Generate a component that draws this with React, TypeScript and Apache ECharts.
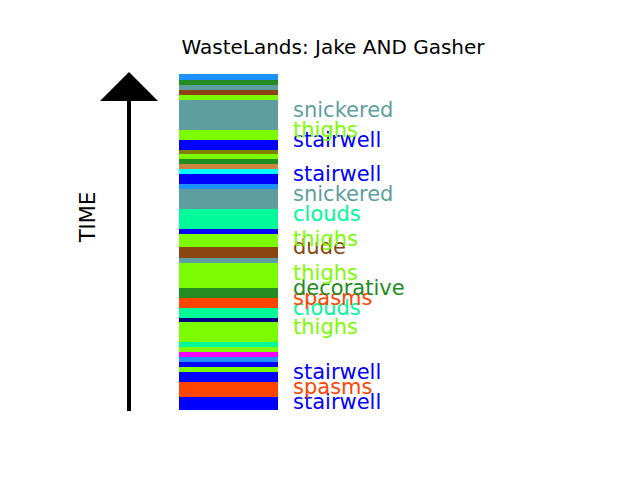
import React, { useEffect, useRef } from 'react';
import * as echarts from 'echarts';

// segments listed from the top (latest) to the bottom (earliest)
const segColors = [
  '#1e90ff', '#228b22', '#5f9ea0', '#8b4513', '#7cfc00', '#5f9ea0', '#7cfc00', '#0000ff',
  '#808000', '#7cfc00', '#228b22', '#cd853f', '#00ffff', '#0000ff', '#1e90ff', '#5f9ea0',
  '#00fa9a', '#0000ff', '#7cfc00', '#8b4513', '#5f9ea0', '#7cfc00', '#228b22', '#ff4500',
  '#00fa9a', '#000080', '#7cfc00', '#00fa9a', '#7cfc00', '#ff00ff', '#1e90ff', '#0000ff',
  '#7cfc00', '#0000ff', '#ff4500', '#0000ff',
];
const segDurations = [
  6, 5, 5, 5, 5, 30, 10, 10,
  4, 5, 5, 5, 5, 10, 5, 20,
  20, 5, 13, 11, 5, 25, 10, 10,
  10, 4, 20, 5, 5, 5, 5, 5,
  5, 10, 15, 13,
];
const segLabels = [
  '', '', '', '', '', 'snickered', 'thighs', 'stairwell',
  '', '', '', '', '', 'stairwell', '', 'snickered',
  'clouds', '', 'thighs', 'dude', '', 'thighs', 'decorative', 'spasms',
  'clouds', '', 'thighs', '', '', '', '', '',
  '', 'stairwell', 'spasms', 'stairwell',
];

const App: React.FC = () => {
  const chartRef = useRef<HTMLDivElement | null>(null);

  useEffect(() => {
    if (!chartRef.current) return;
    const chart = echarts.init(chartRef.current, null, { renderer: 'svg' });
    const total = segDurations.reduce((a, b) => a + b, 0);

    const series = segDurations
      .map((d, i) => {
        const off = d <= 11 ? 0 : d <= 20 ? 5 : 10;
        return {
          type: 'bar',
          stack: 'time',
          barWidth: '100%',
          data: [d],
          itemStyle: { color: segColors[i] },
          label: {
            show: segLabels[i] !== '',
            formatter: segLabels[i],
            position: [114, off],
            verticalAlign: 'middle',
            align: 'left',
            color: segColors[i],
            fontSize: 21,
            fontFamily: 'DejaVu Sans',
          },
        };
      })
      .reverse();

    chart.setOption({
      animation: false,
      title: {
        text: 'WasteLands: Jake AND Gasher',
        left: 320,
        textAlign: 'center',
        top: 24,
        textStyle: { fontSize: 20, fontWeight: 'normal', fontFamily: 'DejaVu Sans', color: '#000' },
      },
      grid: { left: 171, top: 66, width: 99, height: 336 },
      xAxis: { type: 'category', data: [''], show: false },
      yAxis: { type: 'value', min: 0, max: total, show: false },
      series,
      graphic: [
        { type: 'line', shape: { x1: 121, y1: 403, x2: 121, y2: 92 }, style: { stroke: '#000', lineWidth: 4 } },
        { type: 'polygon', shape: { points: [[92, 93], [150, 93], [121, 64]] }, style: { fill: '#000' } },
        {
          type: 'text', x: 80, y: 209, rotation: Math.PI / 2,
          style: { text: 'TIME', fontSize: 21, fontFamily: 'DejaVu Sans', fill: '#000', align: 'center', verticalAlign: 'middle' },
        },
      ],
    });

    return () => chart.dispose();
  }, []);

  return <div ref={chartRef} style={{ width: 624, height: 464 }} />;
};

export default App;
